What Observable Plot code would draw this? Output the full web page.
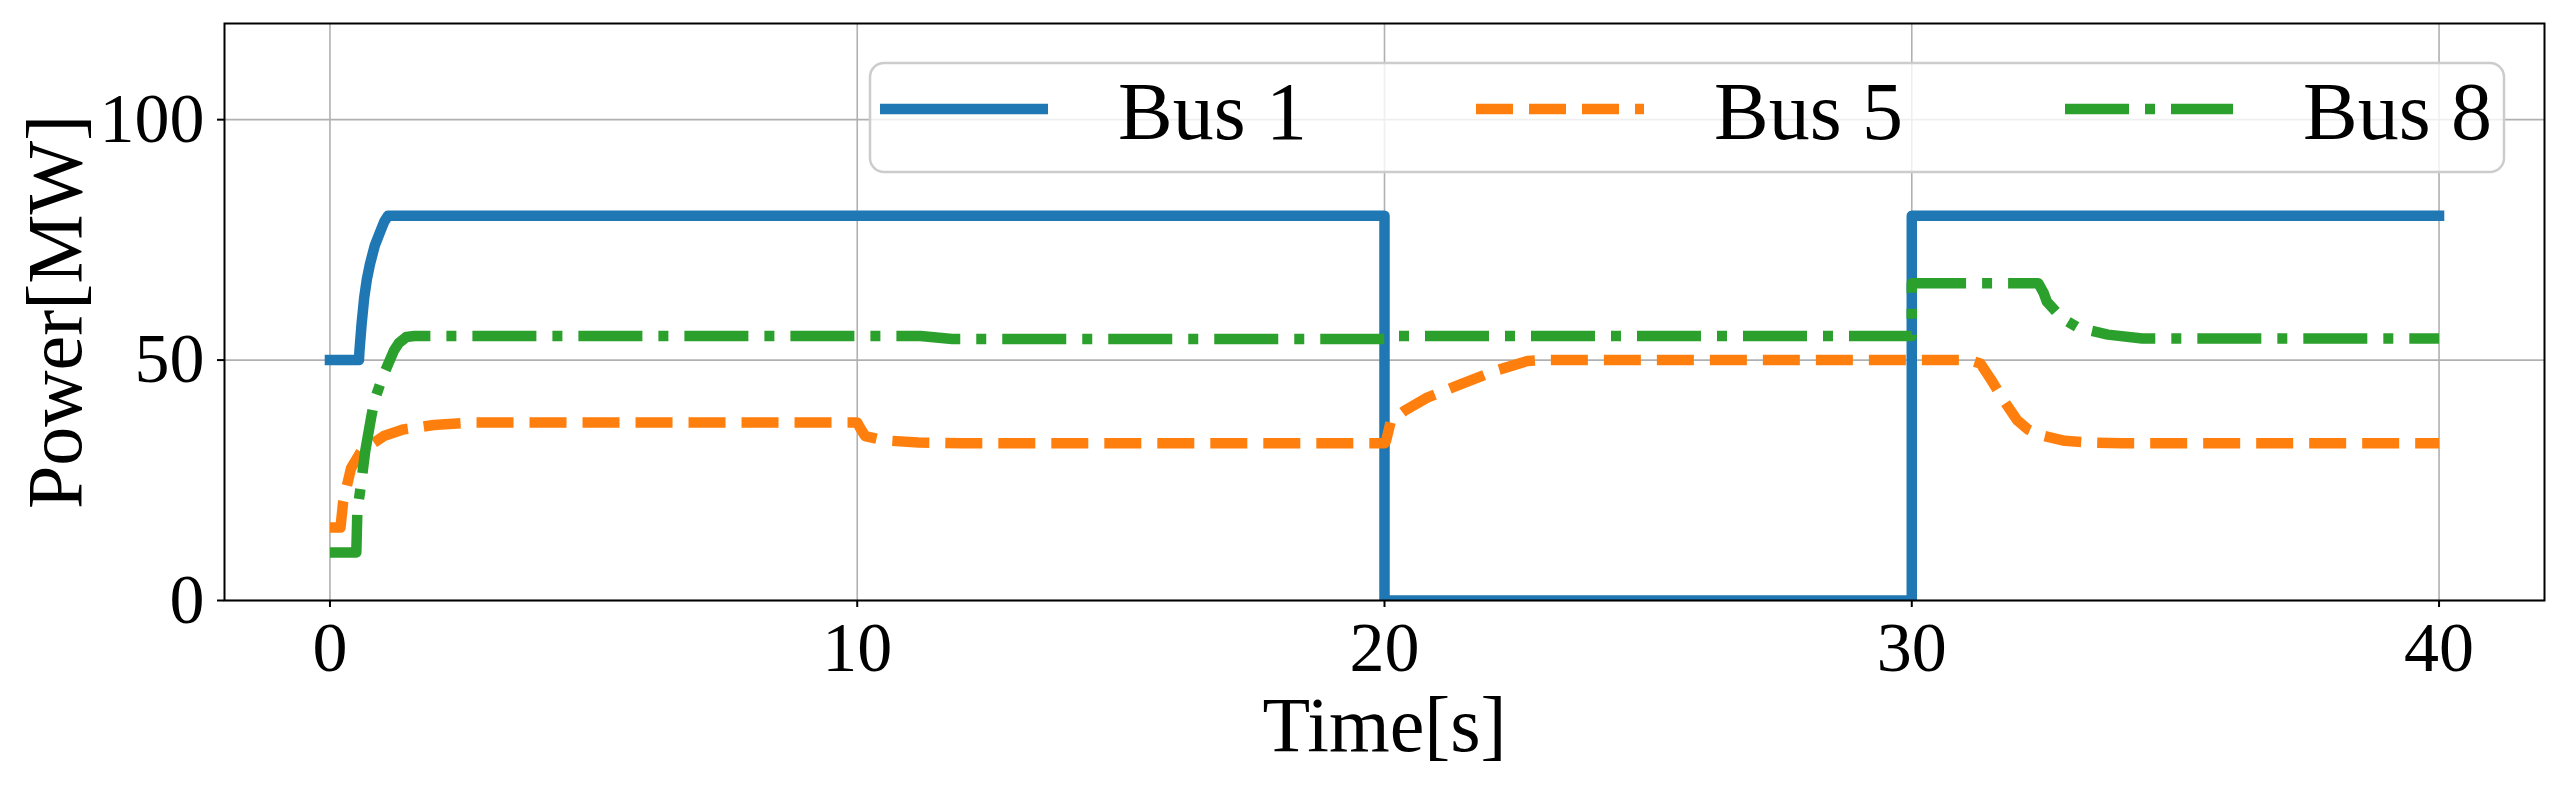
<!DOCTYPE html>
<html>
<head>
<meta charset="utf-8">
<script src="https://cdn.jsdelivr.net/npm/d3@7"></script>
<script src="https://cdn.jsdelivr.net/npm/@observablehq/plot@0.6"></script>
<style>
  html, body { margin: 0; padding: 0; background: white; }
  #chart { width: 2569px; height: 786px; }
</style>
</head>
<body>
<div id="chart"></div>
<script>
// ---- data ----
const seriesNames = ["Bus 1", "Bus 5", "Bus 8"];
const seriesColors = ["#1f77b4", "#ff7f0e", "#2ca02c"];
const seriesDashes = [null, "37,16", "64,16,10,16"];

const bus1Time  = [0, 0.55, 0.56, 0.6, 0.65, 0.7, 0.76, 0.85, 0.95, 1.03, 1.1, 20, 20, 30, 30, 40];
const bus1Power = [50, 50, 52, 57.5, 63, 66.8, 70, 73.8, 76.6, 78.8, 80, 80, 0, 0, 80, 80];

const bus5Time  = [0, 0.2, 0.25, 0.4, 0.59, 1.02, 1.4, 1.97, 2.66, 10, 10.05, 10.15, 10.4, 10.66, 11.16, 12,
                   20, 20.03, 20.12, 20.37, 20.81, 21.45, 22.08, 22.71, 23,
                   31.1, 31.3, 31.5, 31.75, 32, 32.2, 32.45, 32.9, 33.4, 34, 40];
const bus5Power = [15.2, 15.2, 20.5, 27.5, 31, 34.2, 35.6, 36.5, 37, 37, 36, 34.2, 33.6, 33.2, 32.85, 32.7,
                   32.7, 33.2, 37.3, 39.4, 42.2, 45, 47.7, 49.8, 50,
                   50, 49.3, 46, 41.5, 37.5, 35.6, 34.4, 33.2, 32.85, 32.7, 32.7];

const bus8Time  = [0, 0.5, 0.52, 0.59, 0.67, 0.78, 0.84, 1.0, 1.21, 1.31, 1.45, 1.6, 11.2, 11.5, 11.8, 20, 20.05,
                   30, 30, 32.4, 32.5, 32.56, 32.84, 33.16, 33.72, 34.37, 40];
const bus8Power = [10, 10, 18.7, 24.2, 31.1, 38, 41.5, 46.5, 51.9, 53.6, 54.8, 55, 55, 54.7, 54.4, 54.4, 55,
                   55, 66, 66, 64, 62.2, 58.8, 56.7, 55.3, 54.5, 54.5];

const xTicks = [0, 10, 20, 30, 40];
const yTicks = [0, 50, 100];
const xLabel = "Time[s]";
const yLabel = "Power[MW]";

// ---- build tables ----
const toRows = (t, p) => t.map((d, i) => ({t: d, p: p[i]}));
const tables = [toRows(bus1Time, bus1Power), toRows(bus5Time, bus5Power), toRows(bus8Time, bus8Power)];

const FONT = "'Liberation Serif', 'DejaVu Serif', serif";

const lineMarks = tables.map((rows, i) => Plot.line(rows, {
  x: "t", y: "p",
  stroke: seriesColors[i],
  strokeWidth: 10.5,
  strokeDasharray: seriesDashes[i] || undefined,
  strokeLinecap: seriesDashes[i] ? "butt" : "square",
  strokeLinejoin: "round",
  clip: true
}));

const svg = Plot.plot({
  width: 2569,
  height: 786,
  marginLeft: 224,
  marginRight: 25,
  marginTop: 23,
  marginBottom: 186,
  style: {fontFamily: FONT, background: "white", color: "black", overflow: "visible"},
  x: {domain: [-2, 42]},
  y: {domain: [0, 120]},
  marks: [
    Plot.gridX(xTicks, {stroke: "#b0b0b0", strokeOpacity: 1, strokeWidth: 1.6}),
    Plot.gridY(yTicks, {stroke: "#b0b0b0", strokeOpacity: 1, strokeWidth: 1.6}),
    ...lineMarks,
    Plot.frame({stroke: "black", strokeWidth: 2}),
    Plot.axisX(xTicks, {tickSize: 7, tickPadding: 14, fontSize: 70, strokeWidth: 2, label: null, tickFormat: d => String(d)}),
    Plot.axisY(yTicks, {tickSize: 7, tickPadding: 13, fontSize: 70, strokeWidth: 2, label: null, tickFormat: d => String(d)}),
    Plot.text([xLabel], {text: d => d, frameAnchor: "bottom", dy: 126, fontSize: 78, lineAnchor: "middle", textAnchor: "middle", fill: "black"}),
    Plot.text([yLabel], {text: d => d, frameAnchor: "left", dx: -168, rotate: -90, fontSize: 78, lineAnchor: "middle", textAnchor: "middle", fill: "black"})
  ]
});

// ---- legend (inside the plot, upper right) ----
const g = d3.select(svg).append("g").attr("class", "legend");
g.append("rect")
  .attr("x", 870).attr("y", 63).attr("width", 1634).attr("height", 109)
  .attr("rx", 14).attr("ry", 14)
  .attr("fill", "white").attr("fill-opacity", 0.8)
  .attr("stroke", "#cccccc").attr("stroke-width", 2.5);
const itemX = [880, 1476, 2065];
seriesNames.forEach((name, i) => {
  const ln = g.append("line")
    .attr("x1", itemX[i]).attr("x2", itemX[i] + 168)
    .attr("y1", 109).attr("y2", 109)
    .attr("stroke", seriesColors[i]).attr("stroke-width", 10.5)
    .attr("stroke-linecap", "butt");
  if (seriesDashes[i]) ln.attr("stroke-dasharray", seriesDashes[i]);
  g.append("text")
    .attr("x", itemX[i] + 238).attr("y", 139)
    .attr("text-anchor", "start")
    .attr("font-family", FONT).attr("font-size", 82)
    .attr("fill", "black")
    .text(name);
});

document.getElementById("chart").appendChild(svg);
</script>
</body>
</html>
